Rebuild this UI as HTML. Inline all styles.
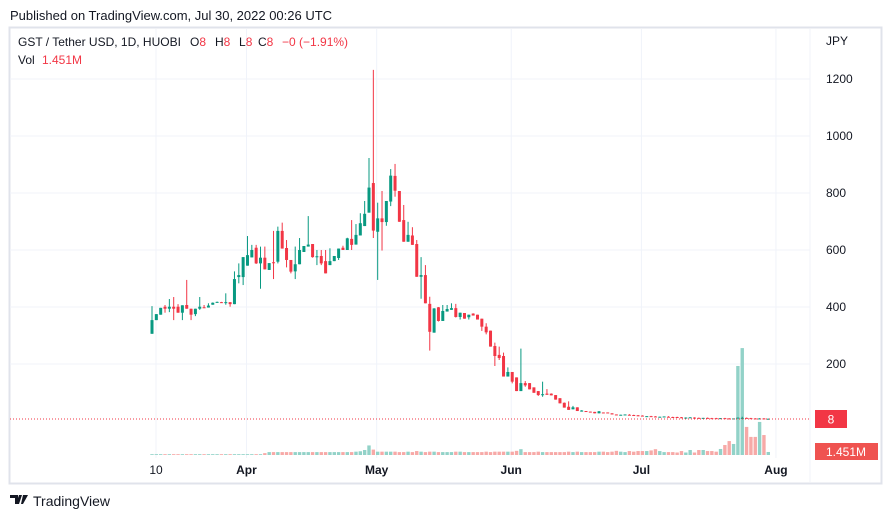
<!DOCTYPE html>
<html><head><meta charset="utf-8"><style>
body{margin:0;width:891px;height:518px;background:#fff;overflow:hidden;font-family:"Liberation Sans",sans-serif}
svg{position:absolute;left:0;top:0}
</style></head><body>
<svg id="c" width="891" height="518">
<text x="10" y="20" font-size="13" fill="#131722">Published on TradingView.com, Jul 30, 2022 00:26 UTC</text>
<rect x="9.5" y="27.5" width="872" height="456" fill="none" stroke="#e0e3eb" stroke-width="2"/>
<g id="grid"></g><g id="vol"></g><g id="cand"></g>
<line x1="10" x2="810" y1="419" y2="419" stroke="#f23645" stroke-dasharray="1,2"/>
<text y="46" font-size="12" fill="#131722"><tspan x="18">GST / Tether USD, 1D, HUOBI</tspan><tspan x="190">O</tspan><tspan fill="#f23645">8</tspan><tspan x="215">H</tspan><tspan fill="#f23645">8</tspan><tspan x="239">L</tspan><tspan fill="#f23645">8</tspan><tspan x="258">C</tspan><tspan fill="#f23645">8</tspan><tspan x="282" fill="#f23645">−0 (−1.91%)</tspan></text>
<text y="64" font-size="12" fill="#131722"><tspan x="18">Vol</tspan><tspan x="42" fill="#f23645">1.451M</tspan></text>
<text x="826" y="45" font-size="12" fill="#131722">JPY</text>
<g id="yax"></g><g id="xax"></g>
<rect x="815" y="410" width="32" height="18" fill="#f23645"/>
<text x="831" y="423.5" font-size="12" fill="#fff" text-anchor="middle">8</text>
<rect x="815" y="443" width="63" height="17" fill="#ef5350"/>
<text x="846" y="456" font-size="12" fill="#fff" text-anchor="middle">1.451M</text>
<g><path d="M10 495h8v9h-3v-6h-5zM19 495h3l-3 9h-3zM23 495h5l-5 9h-2z" fill="#131722"/>
<text x="33" y="506" font-size="14" fill="#131722">TradingView</text></g>
</svg>
<script>
const opens=[306,354,373,401,394,401,401,380,407,394,375,394,399,398,408,415,417,415,417,410,505,505,545,574,608,553,573,530,557,559,667,607,565,525,550,593,612,621,575,579,561,547,561,572,608,600,639,619,651,684,731,835,664,711,698,770,860,807,705,629,651,621,506,512,411,310,399,351,384,390,396,365,379,364,377,373,359,331,317,263,232,228,156,172,153,105,133,133,118,105,91,96,96,91,80,64,50,41,48,33,35,33,32,27,30,30,27,23,21,22,22,21,20,19,16,17,16,14,15,15,14,14,13,11,12,12,11,10,11,10,10,9,10,9,8,9,10,11,10,9,8,9,8];
const closes=[354,375,397,394,401,394,380,406,394,373,394,401,398,405,415,418,415,417,410,498,512,575,582,600,553,573,532,554,554,667,605,565,524,550,600,614,619,575,578,553,518,561,579,605,600,641,618,653,694,727,819,668,711,698,772,861,808,699,629,653,618,506,512,413,313,395,351,386,393,396,365,380,359,373,370,356,331,311,261,228,221,156,172,138,105,133,125,111,99,91,94,92,90,75,62,47,39,48,35,37,32,30,27,34,29,28,23,21,22,23,20,20,17,16,17,15,15,15,16,14,13,12,11,12,13,11,10,11,10,9,9,10,9,8,9,12,11,9,9,8,9,8,8];
const highs=[403,375,397,407,428,435,410,406,495,394,394,435,407,413,416,419,418,448,417,525,553,575,649,618,618,612,612,554,667,682,696,635,565,612,642,614,719,621,600,600,600,606,579,605,615,643,705,691,729,772,923,1232,766,807,772,884,902,807,758,699,680,635,575,547,436,396,400,407,407,413,411,380,379,373,378,373,359,343,317,275,261,240,188,172,153,254,140,133,118,105,138,112,97,91,80,65,69,53,48,38,35,33,32,35,30,30,27,23,22,23,24,22,21,20,17,18,17,15,16,17,15,15,14,13,13,13,12,11,12,11,11,10,11,10,9,10,15,12,11,10,10,10,9];
const lows=[306,354,373,380,382,354,380,354,394,354,368,390,397,398,408,415,415,408,401,410,483,477,545,574,551,464,532,530,498,553,605,539,518,498,550,593,612,573,547,547,518,547,561,565,600,600,600,619,651,684,731,642,495,598,685,754,787,699,629,629,618,506,429,413,247,310,349,351,384,390,363,356,359,356,370,356,316,304,261,193,214,156,156,132,105,105,120,111,99,88,85,92,90,75,62,47,39,41,35,33,32,30,27,27,29,28,23,21,21,22,20,19,17,16,16,15,15,14,15,14,13,12,11,11,12,11,10,10,10,9,9,9,9,8,8,9,10,9,9,8,8,8,8];
const volumes=[0.4,0.4,0.4,0.4,0.4,0.4,0.4,0.4,0.4,0.4,0.4,0.4,0.4,0.4,0.4,0.4,0.4,0.4,0.4,0.4,0.4,0.4,0.4,0.4,0.4,0.4,
0.9,
1.4,1.4,1.4,1.4,1.4,1.4,1.4,1.4,1.4,1.4,1.4,1.4,1.4,1.4,1.4,1.4,1.4,1.4,1.4,1.4,
1.6,1.8,2.4,4.6,2.6,
1.6,1.6,1.6,1.6,1.6,1.4,1.4,1.6,1.4,1.9,1.6,1.4,1.6,1.6,
1.4,1.4,1.4,1.4,1.6,1.6,1.4,1.4,1.4,1.4,1.4,1.6,1.4,1.6,1.6,1.6,1.6,1.6,2.0,
2.8,
1.4,1.4,1.4,1.6,1.4,1.4,1.4,1.4,1.4,1.4,1.6,1.4,1.6,1.4,1.4,1.4,1.4,1.6,1.6,1.4,1.6,2.0,1.6,1.4,1.9,1.6,1.9,1.9,1.9,2.2,
2.8,
1.9,1.4,1.4,1.4,1.2,1.9,1.2,2.4,1.2,2.4,2.4,1.9,1.9,1.6,
2.9,4.8,6.7,5.3,42.8,51.4,13.5,8.7,8.7,15.9,9.6,1.45];
const yTicks=[200,400,600,800,1000,1200];
const xTickLabels=["10","Apr","May","Jun","Jul","Aug"];
const xTickDays=[0,22,52,83,113,144];
const NS="http://www.w3.org/2000/svg";
const X0=152,DX=4.34,Y0=421,KY=0.285,VB=455,KV=2.08;
const xs=i=>X0+i*DX, ys=v=>Y0-v*KY, vh=v=>v*KV;
function mk(t,a,p){const e=document.createElementNS(NS,t);for(const k in a)e.setAttribute(k,a[k]);document.getElementById(p).appendChild(e);return e;}
yTicks.forEach(v=>{
 const l=mk('line',{x1:10,x2:810,y1:ys(v),y2:ys(v),stroke:'#f0f3fa'},'grid');
 
 
 const t=mk('text',{x:826,y:ys(v)+4,'font-size':12,fill:'#131722'},'yax');t.textContent=v;
 
 
});
xTickDays.forEach((d,i)=>{
 const x=X0+d*DX+(i==0?4:-1);
 const l=mk('line',{x1:x,x2:x,y1:29,y2:458,stroke:'#f0f3fa'},'grid');
 
 
 const t=mk('text',{x:x,y:474,'font-size':12,fill:'#131722','text-anchor':'middle','font-weight':i==0?'normal':'bold'},'xax');t.textContent=xTickLabels[i];
 
 
});
mk('line',{x1:810,x2:810,y1:29,y2:482,stroke:'#f0f3fa'},'grid');
opens.forEach((o,i)=>{
 const c=closes[i],up=c>=o,col=up?'#089981':'#f23645',x=xs(i);
 const h=vh(volumes[i]);
 const vb=mk('rect',{x:x-1.7,y:VB-h,width:3.4,height:Math.max(h,0.8),fill:up?'#92d2c8':'#f7a9a7'},'vol');
 
 
 const w=mk('line',{x1:x,x2:x,y1:ys(highs[i]),y2:ys(lows[i]),stroke:col,'stroke-width':1},'cand');
 
 
 const top=ys(Math.max(o,c)),bh=Math.max(Math.abs(o-c)*KY,1);
 const b=mk('rect',{x:x-1.5,y:top,width:3,height:bh,fill:col},'cand');
 
 
});
</script>
</body></html>
